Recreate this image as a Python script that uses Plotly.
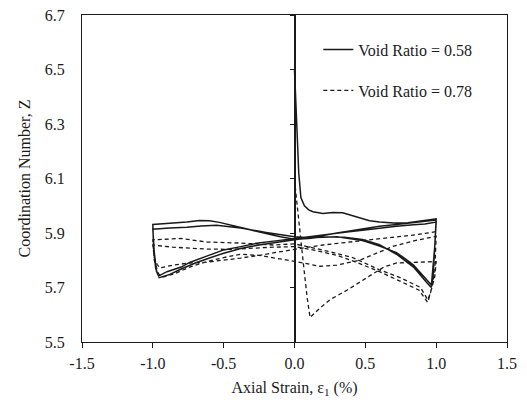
import plotly.graph_objects as go

# ---- data ----
solid_label = "Void Ratio = 0.58"
solid_x = [0.000, 0.015, 0.030, 0.045, 0.070, 0.100, 0.130, 0.200, 0.270, 0.340, 0.400, 0.460, 0.530, 0.600, 0.700, 0.800, 0.900, 1.000,
           0.990, 0.975, 0.965,
           0.930, 0.840, 0.720, 0.600, 0.480, 0.350, 0.200, 0.100, 0.000,
           -0.100, -0.200, -0.300, -0.380, -0.450, -0.530, -0.600, -0.670, -0.760, -0.860, -1.000,
           -0.995, -0.980, -0.960,
           -0.900, -0.800, -0.740, -0.620, -0.500, -0.380, -0.270, -0.120, 0.000,
           0.130, 0.250, 0.370, 0.480, 0.600, 0.720, 0.840, 0.920, 1.000,
           0.990, 0.978, 0.968,
           0.930, 0.840, 0.780, 0.720, 0.600, 0.480, 0.300, 0.100, 0.000,
           -0.100, -0.200, -0.380, -0.550, -0.660, -0.760, -0.880, -1.000,
           -0.990, -0.975, -0.955,
           -0.880, -0.800, -0.700, -0.600, -0.500, -0.380, -0.250, -0.120, 0.000,
           0.150, 0.300, 0.450, 0.600, 0.720, 0.840, 0.920, 1.000]
solid_z = [6.500, 6.300, 6.120, 6.030, 6.000, 5.985, 5.978, 5.972, 5.975, 5.974, 5.965, 5.955, 5.945, 5.940, 5.937, 5.938, 5.945, 5.952,
           5.850, 5.740, 5.700,
           5.720, 5.775, 5.822, 5.857, 5.876, 5.884, 5.886, 5.880, 5.877,
           5.886, 5.898, 5.910, 5.921, 5.930, 5.939, 5.945, 5.946, 5.940, 5.936, 5.931,
           5.850, 5.770, 5.742,
           5.758, 5.775, 5.792, 5.815, 5.838, 5.850, 5.862, 5.872, 5.880,
           5.890, 5.896, 5.904, 5.910, 5.918, 5.925, 5.930, 5.933, 5.940,
           5.840, 5.740, 5.708,
           5.730, 5.782, 5.806, 5.828, 5.852, 5.872, 5.886, 5.883, 5.886,
           5.893, 5.902, 5.918, 5.928, 5.926, 5.921, 5.918, 5.914,
           5.830, 5.760, 5.736,
           5.748, 5.768, 5.790, 5.808, 5.826, 5.843, 5.856, 5.866, 5.874,
           5.886, 5.900, 5.912, 5.925, 5.931, 5.938, 5.944, 5.948]

dashed_label = "Void Ratio = 0.78"
dashed_x = [0.005, 0.030, 0.060, 0.090, 0.110, 0.180, 0.250, 0.370, 0.460, 0.550, 0.630, 0.720, 0.850, 1.000,
            0.990, 0.960, 0.940,
            0.890, 0.750, 0.600, 0.410, 0.180, 0.000,
            -0.150, -0.380, -0.620, -0.800, -0.970, -1.000,
            -0.990, -0.960, -0.930,
            -0.840, -0.740, -0.620, -0.500, -0.380, -0.250, -0.150, 0.000, 0.180, 0.300, 0.370, 0.460, 0.580, 0.700, 0.850, 1.000,
            0.990, 0.960, 0.940,
            0.880, 0.750, 0.600, 0.450, 0.300, 0.150, 0.000, -0.150, -0.300, -0.450, -0.620, -0.740, -0.860, -1.000,
            -0.990, -0.970, -0.950,
            -0.860, -0.740, -0.620, -0.500, -0.380, -0.250, -0.120, 0.000, 0.200, 0.400, 0.550, 0.700, 0.850, 1.000]
dashed_z = [6.070, 5.940, 5.800, 5.660, 5.590, 5.625, 5.655, 5.690, 5.720, 5.750, 5.775, 5.790, 5.792, 5.795,
            5.740, 5.680, 5.655,
            5.700, 5.735, 5.765, 5.810, 5.840, 5.860,
            5.856, 5.863, 5.867, 5.880, 5.878, 5.875,
            5.800, 5.750, 5.738,
            5.752, 5.775, 5.795, 5.810, 5.822, 5.818, 5.810, 5.796, 5.778, 5.782, 5.790, 5.800, 5.826, 5.852, 5.872, 5.888,
            5.760, 5.680, 5.645,
            5.690, 5.722, 5.758, 5.790, 5.818, 5.836, 5.850, 5.848, 5.843, 5.840, 5.841, 5.845, 5.848, 5.856,
            5.810, 5.785, 5.772,
            5.782, 5.790, 5.793, 5.800, 5.808, 5.818, 5.830, 5.840, 5.856, 5.868, 5.876, 5.884, 5.893, 5.905]

x_ticks = [-1.5, -1.0, -0.5, 0.0, 0.5, 1.0, 1.5]
x_tick_text = ["-1.5", "-1.0", "-0.5", "0.0", "0.5", "1.0", "1.5"]
y_ticks = [5.5, 5.7, 5.9, 6.1, 6.3, 6.5, 6.7]
y_tick_text = ["5.5", "5.7", "5.9", "6.1", "6.3", "6.5", "6.7"]

FONT = "Liberation Serif, Times New Roman, serif"
INK = "#1a1a1a"

fig = go.Figure()
fig.add_trace(go.Scatter(x=solid_x, y=solid_z, mode="lines", name=solid_label,
                         legendgroup="a",
                         line=dict(color=INK, width=1.5)))
fig.add_trace(go.Scatter(x=dashed_x, y=dashed_z, mode="lines", name=dashed_label,
                         legendgroup="b",
                         line=dict(color=INK, width=1.3, dash="4px,3px")))
# axis line crossing at x = 0 with its tick marks
fig.add_trace(go.Scatter(x=[0], y=[6.0], yaxis="y2", mode="markers",
                         marker=dict(opacity=0), showlegend=False, hoverinfo="skip"))

fig.update_layout(
    width=527, height=400,
    margin=dict(l=82, r=20, t=15, b=58, autoexpand=False),
    paper_bgcolor="white", plot_bgcolor="white",
    font=dict(family=FONT, size=16, color=INK),
    showlegend=True,
    legend=dict(x=0.556, y=0.946, xanchor="left", yanchor="top",
                bgcolor="rgba(0,0,0,0)", traceorder="grouped", tracegroupgap=17,
                font=dict(family=FONT, size=16, color=INK)),
    xaxis=dict(range=[-1.5, 1.5], tickvals=x_ticks, ticktext=x_tick_text,
               ticks="outside", ticklen=5, tickcolor=INK, tickwidth=1,
               showline=True, linecolor=INK, linewidth=1.3, mirror=True,
               showgrid=False, zeroline=False, ticklabelstandoff=2, automargin=False,
               title=dict(text="Axial Strain, ε<sub>1</sub> (%)", standoff=10,
                          font=dict(family=FONT, size=16, color=INK)),
               tickfont=dict(family=FONT, size=16, color=INK)),
    yaxis=dict(range=[5.5, 6.7], tickvals=y_ticks, ticktext=y_tick_text,
               ticks="", showline=True, linecolor=INK, linewidth=1.3, mirror=True,
               showgrid=False, zeroline=False, ticklabelstandoff=13, automargin=False,
               title=dict(text="Coordination Number, Z", standoff=10,
                          font=dict(family=FONT, size=16, color=INK)),
               tickfont=dict(family=FONT, size=16, color=INK)),
    yaxis2=dict(range=[5.5, 6.7], tickvals=y_ticks, overlaying="y", anchor="free",
                position=0.5, side="left", ticks="outside", ticklen=4,
                tickcolor=INK, tickwidth=1, showline=True, linecolor=INK, automargin=False,
                linewidth=1.5, showticklabels=False, showgrid=False, zeroline=False),
)

fig.write_html("out.html")
